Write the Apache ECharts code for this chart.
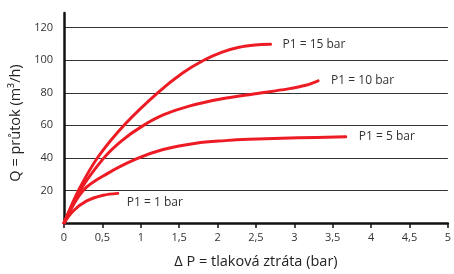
<!DOCTYPE html>
<html><head><meta charset="utf-8">
<script src="https://cdn.jsdelivr.net/npm/echarts@6/dist/echarts.min.js"></script>
<style>html,body{margin:0;padding:0;background:#fff}#c{width:454px;height:274px}</style>
</head><body><div id="c"></div>
<script>
const xTicks = [0,0.5,1,1.5,2,2.5,3,3.5,4,4.5,5];
const yTicks = [0,20,40,60,80,100,120];
const seriesNames = ['P1 = 15 bar','P1 = 10 bar','P1 = 5 bar','P1 = 1 bar'];
const p15 = [[0,0],[0.2,21],[0.45,41],[0.8,61],[1.22,80],[1.54,92],[1.82,100],[2.06,105],[2.28,108],[2.49,109.4],[2.69,109.8]];
const p10 = [[0,0],[0.21,20],[0.52,40],[0.75,50.5],[1.02,59.5],[1.3,66.5],[1.63,71.8],[2.06,76.3],[2.49,79.4],[2.92,82.4],[3.15,84.6],[3.31,87.3]];
const p5  = [[0,0],[0.25,20],[0.57,30.5],[0.95,39.5],[1.28,45],[1.72,49],[2.1,50.6],[2.41,51.4],[3.05,52.3],[3.67,53]];
const p1  = [[0,0],[0.12,7.4],[0.29,13.4],[0.51,17],[0.7,18.2]];
const allData = [p15,p10,p5,p1];
const labelOffsets = [[7,0],[8,0],[8,0],[4,9]];

const font = '"Open Sans", "Noto Sans", sans-serif';
const chart = echarts.init(document.getElementById('c'), null, {renderer:'canvas'});
chart.setOption({
  animation:false,
  grid:{left:64,right:3,top:13,bottom:45},
  xAxis:{
    type:'value', min:xTicks[0], max:xTicks[xTicks.length-1], interval:0.5,
    name:'Δ P = tlaková ztráta (bar)', nameLocation:'middle', nameGap:31,
    nameTextStyle:{fontFamily:font,fontSize:14.5,color:'#222'},
    axisLine:{show:true,lineStyle:{color:'#111',width:2.5}},
    axisTick:{show:true,length:5,lineStyle:{color:'#111',width:1.5}},
    axisLabel:{fontFamily:font,fontSize:11,color:'#333',margin:9,
      formatter:v=>String(v).replace('.',',')},
    splitLine:{show:false}
  },
  yAxis:{
    type:'value', min:0, max:129, interval:20,
    name:'Q = průtok (m³/h)', nameLocation:'middle', nameGap:36,
    nameTextStyle:{fontFamily:font,fontSize:14.5,color:'#222',padding:[0,10,0,0]},
    axisLine:{show:true,lineStyle:{color:'#111',width:2.5}},
    axisTick:{show:false},
    axisLabel:{fontFamily:font,fontSize:11,color:'#333',margin:11,showMaxLabel:false,
      formatter:v=>v===0?'':String(v)},
    splitLine:{show:true,showMaxLine:false,lineStyle:{color:'#333',width:1}}
  },
  series: allData.map((d,i)=>({
    name:seriesNames[i], type:'line', data:d, smooth:0.35, showSymbol:false,
    lineStyle:{color:'#ed1c24',width:3, cap:'round'},
    endLabel:{show:true, formatter:seriesNames[i], fontFamily:font, fontSize:12, color:'#333',
      offset:labelOffsets[i], distance:5}
  }))
});
</script></body></html>
